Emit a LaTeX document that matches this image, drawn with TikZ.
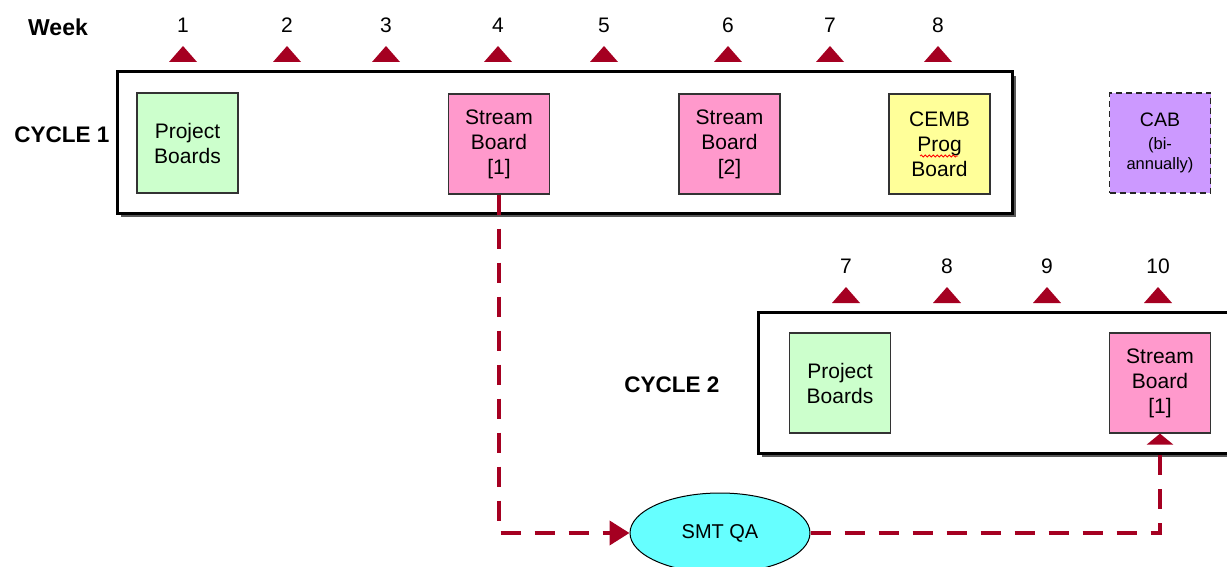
\documentclass[tikz,border=0pt]{standalone}
\usepackage{fontspec}
\setmainfont{Liberation Sans}
\usetikzlibrary{shapes.geometric,arrows.meta,decorations.pathmorphing}
\definecolor{darkred}{RGB}{165,0,33}
\definecolor{pgreen}{RGB}{204,255,204}
\definecolor{ppink}{RGB}{255,153,204}
\definecolor{pyellow}{RGB}{255,255,153}
\definecolor{ppurple}{RGB}{204,153,255}
\definecolor{pcyan}{RGB}{102,255,255}
\tikzset{
  boardbox/.style={draw=black!80, line width=1.2pt, minimum width=101pt, minimum height=100pt, inner sep=0pt, align=center, font=\fontsize{21}{25}\selectfont},
  cyclebox/.style={draw=black, line width=3pt, fill=white},
  cycleshadow/.style={fill=black!65},
  weeknum/.style={font=\fontsize{21}{24}\selectfont},
  cyclelabel/.style={font=\fontsize{22.5}{24}\selectfont\bfseries},
  marker/.style={fill=darkred},
  flow/.style={draw=darkred, line width=4pt, dash pattern=on 20pt off 14pt},
}
\begin{document}
\begin{tikzpicture}[x=1pt,y=-1pt]
\useasboundingbox (0,0) rectangle (1227,567);
\clip (0,0) rectangle (1227,567);
% Week header
\node[font=\fontsize{23}{24}\selectfont\bfseries] (week) at (58,27) {Week};
% cycle 1 week numbers and markers
\foreach \n/\x in {1/183,2/287,3/386,4/498,5/604,6/728,7/830,8/938}{
  \node[weeknum] (wa\n) at (\x,25) {\n};
  \fill[marker] (\x,46) -- (\x+14,62) -- (\x-14,62) -- cycle;
}
% cycle 1 frame
\fill[cycleshadow] (121,76) rectangle (1016,217);
\draw[cyclebox] (117,72) rectangle (1012,213);
\node[cyclelabel] (c1) at (62,135) {CYCLE 1};
\node[boardbox, fill=pgreen] (pb1) at (187.5,143) {Project\\Boards};
\node[boardbox, fill=ppink] (sb1) at (499,144) {Stream\\Board\\{[1]}};
\node[boardbox, fill=ppink] (sb2) at (729.5,144) {Stream\\Board\\{[2]}};
\node[boardbox, fill=pyellow] (cemb) at (939.5,144) {CEMB\\Prog\\Board};
\draw[red, line width=0.8pt, decorate, decoration={snake, amplitude=1pt, segment length=4pt}] (920,156) -- (958,156);
\node[boardbox, fill=ppurple, draw=black!85, line width=1.5pt, dash pattern=on 6pt off 4pt, font=\fontsize{19.5}{20}\selectfont] (cab) at (1160,143) {CAB\\[3pt]{\fontsize{16.5}{19}\selectfont (bi-}\\{\fontsize{16.5}{19}\selectfont annually)}};
% cycle 2 week numbers and markers
\foreach \n/\x in {7/846,8/947,9/1047,10/1158}{
  \node[weeknum] (wb\n) at (\x,266) {\n};
  \fill[marker] (\x,287) -- (\x+14,303) -- (\x-14,303) -- cycle;
}
% cycle 2 frame
\fill[cycleshadow] (762,316) rectangle (1240,457);
\draw[cyclebox] (758,312) rectangle (1240,453);
\node[cyclelabel] (c2) at (672,385) {CYCLE 2};
\node[boardbox, fill=pgreen] (pb2) at (840,383) {Project\\Boards};
\node[boardbox, fill=ppink] (sb3) at (1160,383) {Stream\\Board\\{[1]}};
% SMT QA
\node[ellipse, draw=black, line width=1pt, fill=pcyan, minimum width=180pt, minimum height=80pt, font=\fontsize{20}{22}\selectfont] (smt) at (720,533) {SMT QA};
% connectors
\draw[flow, -{Triangle[length=20pt,width=24pt]}] (sb1.south) |- (smt.west);
\draw[flow, -{Triangle[length=11pt,width=26pt]}] (smt.east) -| (sb3.south);
\end{tikzpicture}
\end{document}
